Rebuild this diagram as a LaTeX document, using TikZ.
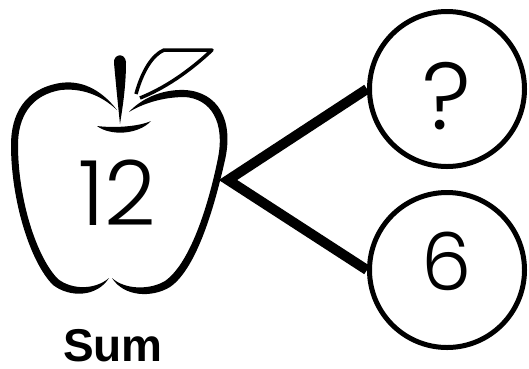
\documentclass[tikz,border=0pt]{standalone}
\usepackage{fontspec}
\setmainfont{Liberation Sans}
\newfontfamily\roundfont{Poppins Light}
\usetikzlibrary{positioning}
\tikzset{
	x=1pt, y=-1pt, % one unit is one pixel of the sheet, y runs down
	part/.style={circle, draw, line width=5pt, minimum size=155pt, inner sep=0pt}, % the two addend circles
	numeral/.style={inner sep=0pt, font=\roundfont\fontsize{90}{90}\selectfont}, % digits in the picture
	branch/.style={line width=10pt, line join=miter}, % the thick number bond lines
	brush/.style={fill=black, draw=none}, % tapered strokes of the apple
}

\begin{document}
\begin{tikzpicture}
	\useasboundingbox (0,0) rectangle (529,368);
	% the two parts
	\node[part] (ask) at (447,89) {};
	\node[part, below=21pt of ask] (six) {};
	\node[numeral, font=\roundfont\fontsize{95}{95}\selectfont] (asktext) at ([yshift=-7pt]ask.center) {?};
	\node[numeral, font=\roundfont\fontsize{80}{80}\selectfont] (sixtext) at ([yshift=9pt]six.center) {6};
	% the whole
	\coordinate (fork) at (228,180);
	\draw[branch] (ask.west) -- (fork) -- (six.west);
	% apple outline
	\path[brush] (117,110) .. controls (100,88) and (80,80) .. (60,83) .. controls (24,89) and (11,115) .. (11,145)
		.. controls (11,200) and (30,262) .. (53,285) .. controls (70,298) and (97,297) .. (109,278)
		.. controls (95,290) and (72,290) .. (58,279) .. controls (37,258) and (18,200) .. (18,145)
		.. controls (18,118) and (30,95) .. (61,90) .. controls (80,88) and (100,94) .. cycle;
	\path[brush] (112,278) .. controls (124,297) and (152,298) .. (170,287) .. controls (198,268) and (216,200) .. (225,160)
		.. controls (234,120) and (218,92) .. (185,90) .. controls (160,89) and (140,100) .. (129,112)
		.. controls (142,104) and (162,97) .. (185,97) .. controls (211,99) and (225,122) .. (218,158)
		.. controls (210,198) and (192,262) .. (165,281) .. controls (150,290) and (125,290) .. cycle;
	% stem, leaf and dimple
	\path[brush] (114,63) .. controls (113,54) and (125,52) .. (126,62) .. controls (126,85) and (123,105) .. (120,124)
		.. controls (118,105) and (116,85) .. cycle;
	\draw[line width=3.5pt, line join=round] (136,94) .. controls (142,72) and (152,55) .. (164,50) -- (212,50)
		.. controls (195,66) and (170,86) .. (140,98);
	\path[brush] (97,126) .. controls (110,136) and (138,135) .. (151,121) .. controls (138,127) and (112,128) .. cycle;
	\node[numeral] (whole) at (117,193) {12};
	\node[font=\bfseries\fontsize{46}{46}\selectfont, inner sep=0pt] (sumlabel) at (113,346) {Sum};
\end{tikzpicture}
\end{document}
